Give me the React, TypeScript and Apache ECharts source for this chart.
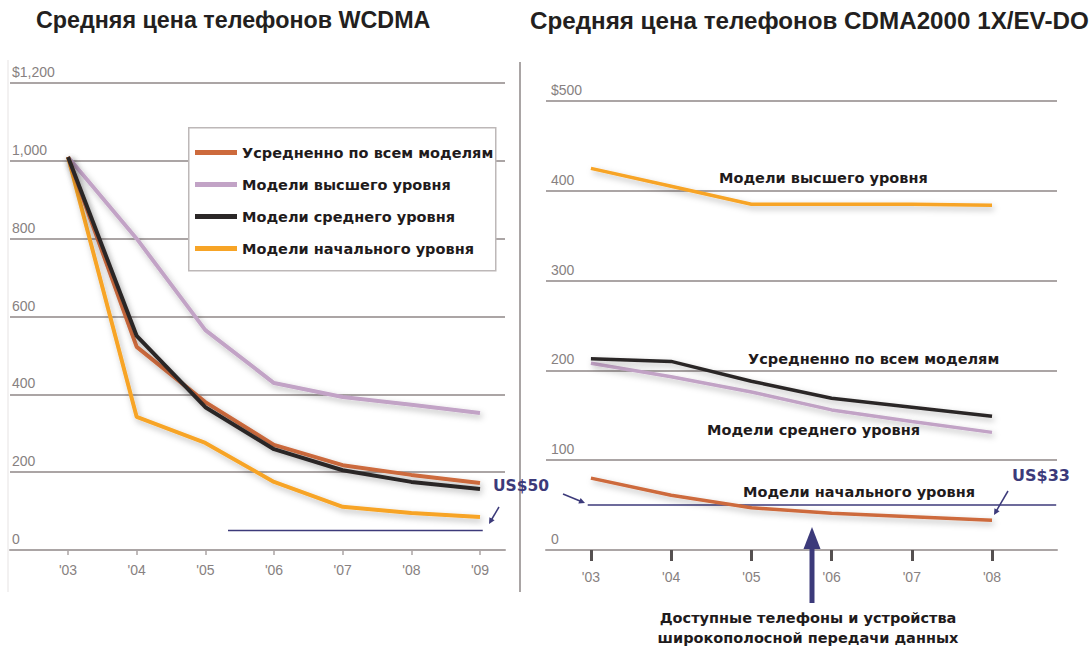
import React, { useEffect, useRef } from "react";
import * as echarts from "echarts";

// ---------- data ----------
const wcdmaYears = [2003, 2004, 2005, 2006, 2007, 2008, 2009];
const wcdmaAverage = [1010, 522, 380, 270, 218, 193, 172];
const wcdmaHigh = [1010, 800, 565, 429, 393, 373, 352];
const wcdmaMid = [1010, 550, 367, 259, 205, 175, 157];
const wcdmaEntry = [1010, 342, 275, 175, 111, 95, 85];
const wcdmaThresholdYears = [2005.33, 2009.04];

const cdmaYears = [2003, 2004, 2005, 2006, 2007, 2008];
const cdmaHighOrange = [425, 405, 385, 385, 385, 384];
const cdmaAverageBlack = [213, 210, 188, 169, 159, 149];
const cdmaMidLilac = [208, 193, 176, 156, 143, 131];
const cdmaEntryBrown = [80, 61, 47, 41, 37, 33];
const cdmaThresholdYears = [2002.96, 2008.8];

const thresholdValue = 50;

const seriesNames = [
  "Усредненно по всем моделям",
  "Модели высшего уровня",
  "Модели среднего уровня",
  "Модели начального уровня",
];

const titles = [
  "Средняя цена телефонов WCDMA",
  "Средняя цена телефонов CDMA2000 1X/EV-DO",
];

const footnoteLines = [
  "Доступные телефоны и устройства",
  "широкополосной передачи данных",
];

// ---------- styles ----------
const C_AVG = "#cd6a3c";
const C_HIGH = "#c2a3c6";
const C_MID = "#2b2727";
const C_ENTRY = "#f7a426";
const C_NAVY = "#3c3a7a";
const C_GRID = "#aba5a5";
const C_LABEL = "#878181";
const BOLD_FONT = "bold 14.5px 'DejaVu Sans'";

const pairs = (xs: number[], ys: number[]) => xs.map((x, i) => [x, ys[i]]);

const shadow = {
  shadowColor: "rgba(0,0,0,0.28)",
  shadowBlur: 6,
  shadowOffsetX: 2,
  shadowOffsetY: 3,
};

function lineSeries(
  name: string,
  data: number[][],
  color: string,
  idx: number,
  width: number
) {
  return {
    name,
    type: "line",
    xAxisIndex: idx,
    yAxisIndex: idx,
    data,
    symbol: "none",
    silent: true,
    lineStyle: { color, width, ...shadow },
    itemStyle: { color },
  };
}

function thresholdSeries(name: string, xs: number[], idx: number) {
  return {
    name,
    type: "line",
    xAxisIndex: idx,
    yAxisIndex: idx,
    data: xs.map((x) => [x, thresholdValue]),
    symbol: "none",
    silent: true,
    lineStyle: { color: C_NAVY, width: 1.5 },
    itemStyle: { color: C_NAVY },
    z: 1,
  };
}

function label(text: string, x: number, y: number, extra: any = {}) {
  return {
    type: "text",
    x,
    y,
    z: 1,
    style: {
      text,
      font: BOLD_FONT,
      fill: "#1f1b1c",
      align: "left",
      textAlign: "left",
      verticalAlign: "middle",
      textVerticalAlign: "middle",
      ...extra,
    },
  };
}

function arrowHead(points: number[][]) {
  return {
    type: "polygon",
    shape: { points },
    style: { fill: C_NAVY },
    z: 5,
  };
}

function segment(x1: number, y1: number, x2: number, y2: number, w: number) {
  return {
    type: "line",
    shape: { x1, y1, x2, y2 },
    style: { stroke: C_NAVY, lineWidth: w },
    z: 5,
  };
}

export default function App() {
  const ref = useRef<HTMLDivElement>(null);

  useEffect(() => {
    document.body.style.margin = "0";
    if (!ref.current) return;
    const chart = echarts.init(ref.current, null, { renderer: "svg" });

    const yearLabel = (v: number) => "'" + String(Math.round(v)).slice(2);

    const option: any = {
      animation: false,
      backgroundColor: "#ffffff",
      title: titles.map((t, i) => ({
        text: t,
        left: i === 0 ? 36 : 530,
        top: 8,
        padding: 0,
        textStyle: {
          fontSize: i === 0 ? 23.3 : 24.2,
          fontWeight: "bold",
          color: "#231f20",
          fontFamily: "'Liberation Sans', Arial, sans-serif",
        },
      })),
      legend: {
        data: seriesNames,
        orient: "vertical",
        left: 195,
        top: 145,
        padding: 0,
        itemWidth: 42,
        itemHeight: 5,
        itemGap: 17,
        icon: "rect",
        selectedMode: false,
        textStyle: {
          fontSize: 14.5,
          fontWeight: "bold",
          color: "#1f1b1c",
          fontFamily: "'DejaVu Sans'",
        },
        z: 6,
      },
      grid: [
        { left: 10, right: 587, top: 83, bottom: 96 },
        { left: 546, right: 35, top: 101, bottom: 96 },
      ],
      xAxis: [
        {
          type: "value",
          gridIndex: 0,
          min: 2002.155,
          max: 2009.364,
          splitLine: { show: false },
          axisLine: { lineStyle: { color: C_GRID, width: 2 } },
          axisTick: {
            customValues: wcdmaYears,
            length: 5,
            lineStyle: { color: C_GRID, width: 1.5 },
          },
          axisLabel: {
            customValues: wcdmaYears,
            formatter: yearLabel,
            margin: 13,
            color: C_LABEL,
            fontSize: 14,
            fontFamily: "'Liberation Sans', Arial",
          },
        },
        {
          type: "value",
          gridIndex: 1,
          min: 2002.44,
          max: 2008.81,
          splitLine: { show: false },
          axisLine: { lineStyle: { color: C_GRID, width: 2 } },
          axisTick: {
            customValues: cdmaYears,
            length: 11,
            lineStyle: { color: "#555050", width: 3 },
          },
          axisLabel: {
            customValues: cdmaYears,
            formatter: yearLabel,
            margin: 20,
            color: C_LABEL,
            fontSize: 14,
            fontFamily: "'Liberation Sans', Arial",
          },
        },
      ],
      yAxis: [
        {
          type: "value",
          gridIndex: 0,
          min: 0,
          max: 1200,
          interval: 200,
          axisLine: { show: false },
          axisTick: { show: false },
          splitLine: { lineStyle: { color: C_GRID, width: 2 } },
          axisLabel: {
            inside: true,
            margin: 2,
            verticalAlign: "bottom",
            padding: [0, 0, 4, 0],
            color: C_LABEL,
            fontSize: 14,
            fontFamily: "'Liberation Sans', Arial",
            formatter: (v: number) =>
              v === 1200 ? "$1,200" : v >= 1000 ? "1,000" : String(v),
          },
        },
        {
          type: "value",
          gridIndex: 1,
          min: 0,
          max: 500,
          interval: 100,
          axisLine: { show: false },
          axisTick: { show: false },
          splitLine: { lineStyle: { color: C_GRID, width: 2 } },
          axisLabel: {
            inside: true,
            margin: 5,
            verticalAlign: "bottom",
            padding: [0, 0, 4, 0],
            color: C_LABEL,
            fontSize: 14,
            fontFamily: "'Liberation Sans', Arial",
            formatter: (v: number) => (v === 500 ? "$500" : String(v)),
          },
        },
      ],
      series: [
        thresholdSeries("wcdma-threshold", wcdmaThresholdYears, 0),
        lineSeries(seriesNames[1], pairs(wcdmaYears, wcdmaHigh), C_HIGH, 0, 4),
        lineSeries(seriesNames[3], pairs(wcdmaYears, wcdmaEntry), C_ENTRY, 0, 4),
        lineSeries(seriesNames[0], pairs(wcdmaYears, wcdmaAverage), C_AVG, 0, 4),
        lineSeries(seriesNames[2], pairs(wcdmaYears, wcdmaMid), C_MID, 0, 4),

        thresholdSeries("cdma-threshold", cdmaThresholdYears, 1),
        lineSeries("cdma-high", pairs(cdmaYears, cdmaHighOrange), C_ENTRY, 1, 3.5),
        lineSeries("cdma-mid", pairs(cdmaYears, cdmaMidLilac), C_HIGH, 1, 3.5),
        lineSeries("cdma-average", pairs(cdmaYears, cdmaAverageBlack), C_MID, 1, 3.5),
        lineSeries("cdma-entry", pairs(cdmaYears, cdmaEntryBrown), C_AVG, 1, 3.5),
      ],
      graphic: [
        // legend box
        {
          type: "rect",
          left: 188,
          top: 127,
          z: 3,
          shape: { width: 307, height: 143 },
          style: { fill: "#ffffff", stroke: "#bdb8b8", lineWidth: 1.5 },
        },
        // panel dividers
        {
          type: "line",
          shape: { x1: 520, y1: 62, x2: 520, y2: 592 },
          style: { stroke: "#aaa5a5", lineWidth: 2 },
        },
        {
          type: "line",
          shape: { x1: 8, y1: 60, x2: 8, y2: 592 },
          style: { stroke: "#e6e3e3", lineWidth: 1 },
        },
        // inline labels of right chart
        label(seriesNames[1], 714, 178, { backgroundColor: "#fff", padding: [3, 70, 3, 5] }),
        label(seriesNames[0], 743, 359, { backgroundColor: "#fff", padding: [3, 4, 3, 5] }),
        label(seriesNames[2], 705, 430, { backgroundColor: "#fff", padding: [3, 4, 3, 2] }),
        label(seriesNames[3], 743, 492),
        // threshold labels
        label("US$50", 493, 486, { fill: C_NAVY, font: "bold 15.5px 'DejaVu Sans'" }),
        label("US$33", 1012, 475, { fill: C_NAVY, font: "bold 16px 'DejaVu Sans'" }),
        // small arrows
        segment(499, 507, 491, 520.5, 1.5),
        arrowHead([[489, 524], [494.6, 520.3], [489.4, 517.3]]),
        segment(563, 494, 580, 501, 1.5),
        arrowHead([[585, 503], [578.3, 503.5], [580.6, 497.95]]),
        segment(1008, 491, 996, 511.5, 1.5),
        arrowHead([[994, 515], [999.6, 511.3], [994.4, 508.3]]),
        // big upward arrow
        segment(812, 545, 812, 603, 5),
        arrowHead([[812, 527], [803.5, 549], [820.5, 549]]),
        // footnote
        label(footnoteLines[0], 808, 618, { align: "center", textAlign: "center" }),
        label(footnoteLines[1], 808, 638, { align: "center", textAlign: "center" }),
      ],
    };

    chart.setOption(option);
    return () => chart.dispose();
  }, []);

  return <div ref={ref} style={{ width: 1092, height: 646 }} />;
}
